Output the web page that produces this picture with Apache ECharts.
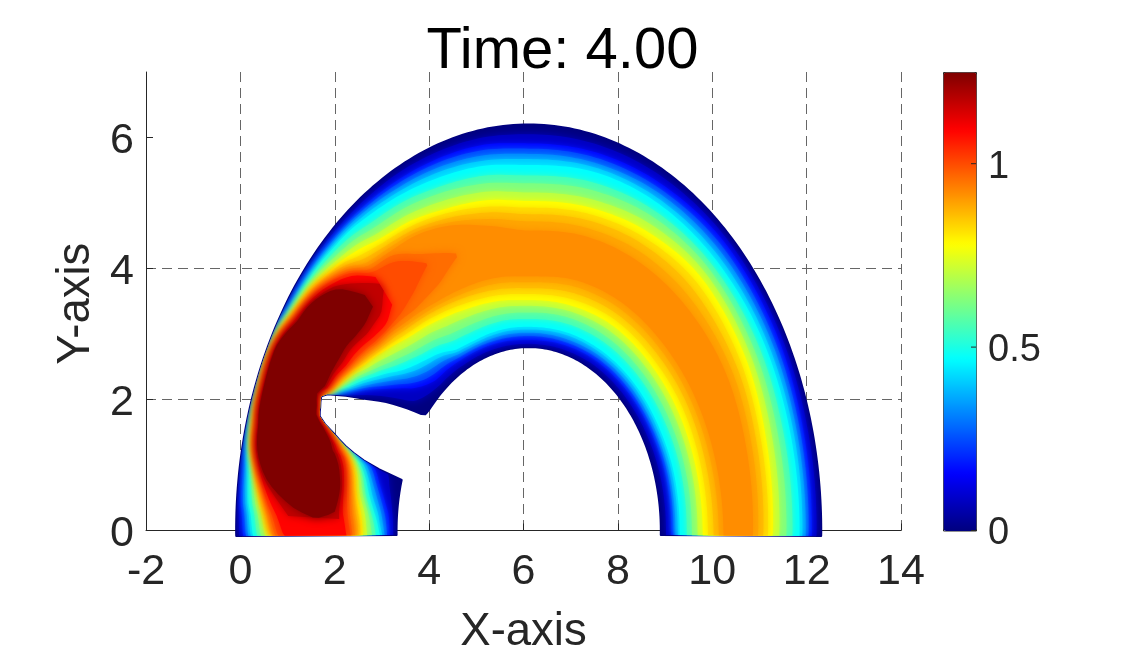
<!DOCTYPE html>
<html><head><meta charset="utf-8">
<style>html,body{margin:0;padding:0;background:#fff}#c{width:1125px;height:656px}</style>
<script src="https://cdn.jsdelivr.net/npm/echarts@6/dist/echarts.min.js"></script>
</head><body><div id="c"></div><script>
const titleText='Time: 4.00';
const xTicks=[-2,0,2,4,6,8,10,12,14];
const yTicks=[0,2,4,6];
const barTicks=[0,0.5,1];
const arcCentreX=6.11;
const footBottomY=-0.085;
// contour levels of the field
const levels=[0,.08,.16,.24,.32,.40,.47,.55,.62,.70,.78,.86,.92,1.0,1.09,1.17,1.25];
// angle of each cross-section, degrees round the arc from the left foot
const stations=[-1.4,2.5,4,9,13,16,16.4,17.7,19.8,21.5,23,25,27,30,33,36,39,42,46,50,55,62,70,80,90,105,120,135,150,165,181.4];
// inner radius at which each level is reached, one row per cross-section
const isoIn=[
[2.8,2.87,2.94,3.0,3.05,3.1,3.15,3.24,3.32,3.42,3.51,3.6,3.68,3.77,3.86],
[2.8,2.88,2.96,3.03,3.1,3.17,3.22,3.3,3.37,3.46,3.54,3.64,3.72,3.83,3.92,4.02,4.45],
[2.8,2.89,2.97,3.05,3.12,3.19,3.26,3.34,3.4,3.48,3.56,3.67,3.75,3.85,3.95,4.03,4.12],
[2.8,2.95,3.1,3.18,3.26,3.35,3.42,3.5,3.56,3.63,3.7,3.77,3.82,3.9,3.97,4.01,4.05],
[2.8,3.03,3.25,3.33,3.41,3.48,3.55,3.61,3.66,3.72,3.78,3.85,3.9,3.96,4.02,4.07,4.12],
[2.8,3.1,3.38,3.47,3.56,3.64,3.72,3.78,3.83,3.89,3.95,4.0,4.03,4.08,4.15,4.21,4.28],
[3.3,3.38,3.45,3.54,3.62,3.71,3.78,3.84,3.89,3.95,4.0,4.05,4.08,4.14,4.2,4.26,4.33],
[3.9,3.93,3.95,3.98,4.01,4.03,4.05,4.09,4.12,4.16,4.2,4.23,4.25,4.27,4.3,4.35,4.4],
[4.4,4.41,4.42,4.43,4.44,4.46,4.47,4.48,4.5,4.51,4.52,4.54,4.55,4.56,4.57,4.6,4.62],
[4.76,4.77,4.77,4.78,4.78,4.78,4.79,4.79,4.79,4.8,4.8,4.81,4.81,4.81,4.82,4.83,4.84],
[4.8,4.81,4.81,4.82,4.82,4.83,4.83,4.83,4.84,4.84,4.84,4.85,4.85,4.86,4.86,4.87,4.88],
[4.85,4.85,4.86,4.87,4.87,4.88,4.88,4.89,4.89,4.9,4.9,4.91,4.91,4.92,4.92,4.93,4.95],
[4.56,4.58,4.6,4.62,4.64,4.66,4.68,4.7,4.71,4.72,4.73,4.75,4.76,4.78,4.79,4.82,4.85],
[4.02,4.14,4.25,4.29,4.33,4.37,4.4,4.45,4.49,4.53,4.58,4.62,4.65,4.69,4.72,4.78,4.83],
[3.6,3.78,3.95,4.02,4.08,4.14,4.2,4.27,4.32,4.39,4.45,4.5,4.54,4.58,4.62,4.71,4.8],
[3.17,3.43,3.68,3.76,3.85,3.93,4.0,4.08,4.15,4.22,4.3,4.38,4.44,4.5,4.57,4.68,4.78],
[2.82,3.14,3.45,3.55,3.65,3.74,3.82,3.92,4.0,4.1,4.2,4.28,4.35,4.42,4.5,4.61,4.72],
[2.8,3.03,3.25,3.36,3.47,3.57,3.65,3.77,3.87,3.98,4.1,4.19,4.26,4.34,4.42,4.55,4.69],
[2.8,2.95,3.1,3.2,3.31,3.41,3.5,3.63,3.73,3.85,3.98,4.1,4.2,4.29,4.37,4.55,4.75],
[2.8,2.91,3.02,3.12,3.22,3.32,3.4,3.52,3.63,3.75,3.88,4.02,4.12,4.28,4.5,4.78],
[2.8,2.9,3.0,3.08,3.16,3.24,3.3,3.43,3.54,3.67,3.8,3.95,4.06,4.35],
[2.8,2.88,2.97,3.02,3.07,3.11,3.15,3.3,3.42,3.56,3.7,3.87,3.99,4.58],
[2.8,2.87,2.95,3.0,3.04,3.08,3.12,3.26,3.37,3.5,3.62,3.8,3.95],
[2.8,2.86,2.93,2.98,3.03,3.08,3.12,3.25,3.35,3.46,3.56,3.74,3.92],
[2.8,2.85,2.91,2.97,3.02,3.07,3.11,3.23,3.33,3.43,3.52,3.7,3.88],
[2.8,2.86,2.93,2.98,3.03,3.09,3.13,3.26,3.36,3.46,3.55,3.75,3.95],
[2.8,2.88,2.96,3.01,3.06,3.11,3.15,3.29,3.39,3.5,3.6,3.8,4.0],
[2.8,2.89,2.98,3.03,3.08,3.13,3.17,3.31,3.41,3.52,3.62,3.83,4.03],
[2.8,2.9,3.0,3.05,3.09,3.14,3.18,3.33,3.43,3.55,3.65,3.87,4.07],
[2.8,2.91,3.02,3.07,3.11,3.16,3.2,3.35,3.45,3.57,3.67,3.89,4.1],
[2.8,2.91,3.02,3.07,3.11,3.16,3.2,3.35,3.46,3.58,3.69,3.92,4.13]];
// outer radius at which each level is reached, one row per cross-section
const isoOut=[
[6.2,6.13,6.05,5.99,5.94,5.89,5.84,5.75,5.67,5.58,5.49,5.44,5.4,5.3,5.17],
[6.2,6.15,6.09,6.03,5.98,5.94,5.9,5.82,5.75,5.67,5.6,5.56,5.53,5.45,5.35,5.1,4.58],
[6.2,6.16,6.12,6.07,6.02,5.98,5.95,5.87,5.81,5.74,5.67,5.62,5.59,5.54,5.46,5.25,5.0],
[6.2,6.16,6.12,6.09,6.06,6.03,6.0,5.95,5.91,5.87,5.84,5.82,5.81,5.79,5.77,5.74,5.7],
[6.2,6.17,6.14,6.12,6.1,6.09,6.07,6.05,6.03,6.01,6.0,5.98,5.96,5.95,5.94,5.93,5.91],
[6.2,6.17,6.14,6.13,6.12,6.1,6.09,6.08,6.07,6.05,6.04,6.02,6.0,5.99,5.98,5.97,5.96],
[6.2,6.17,6.14,6.13,6.12,6.1,6.09,6.08,6.07,6.06,6.04,6.03,6.01,6.0,5.99,5.98,5.97],
[6.2,6.17,6.14,6.13,6.12,6.11,6.1,6.09,6.08,6.07,6.06,6.05,6.04,6.03,6.02,6.01,6.0],
[6.2,6.17,6.14,6.13,6.12,6.11,6.1,6.09,6.08,6.08,6.07,6.06,6.05,6.05,6.05,6.03,6.02],
[6.2,6.18,6.15,6.14,6.13,6.12,6.11,6.1,6.09,6.08,6.08,6.07,6.06,6.06,6.05,6.04,6.03],
[6.2,6.18,6.15,6.14,6.13,6.12,6.12,6.11,6.1,6.09,6.09,6.08,6.08,6.07,6.06,6.05,6.04],
[6.2,6.18,6.15,6.14,6.14,6.13,6.13,6.12,6.11,6.11,6.1,6.09,6.09,6.08,6.07,6.06,6.05],
[6.2,6.18,6.15,6.14,6.13,6.13,6.12,6.11,6.11,6.1,6.09,6.08,6.08,6.07,6.07,6.06,6.05],
[6.2,6.18,6.15,6.14,6.13,6.12,6.11,6.1,6.09,6.08,6.07,6.05,6.04,6.02,6.01,6.0,5.98],
[6.2,6.17,6.14,6.12,6.1,6.08,6.06,6.05,6.03,6.02,6.0,5.97,5.95,5.93,5.91,5.88,5.86],
[6.2,6.16,6.13,6.11,6.08,6.06,6.04,6.02,6.0,5.98,5.95,5.92,5.89,5.86,5.84,5.82,5.8],
[6.2,6.16,6.12,6.1,6.08,6.05,6.03,6.0,5.97,5.94,5.9,5.86,5.83,5.79,5.75,5.71,5.68],
[6.2,6.15,6.11,6.09,6.06,6.04,6.02,5.97,5.93,5.88,5.82,5.77,5.72,5.67,5.62,5.56,5.5],
[6.2,6.15,6.1,6.07,6.04,6.01,5.98,5.92,5.85,5.78,5.72,5.62,5.54,5.46,5.4,5.25,5.0],
[6.2,6.14,6.08,6.05,6.02,5.98,5.95,5.86,5.78,5.69,5.6,5.42,5.28,5.15,5.05,4.92],
[6.2,6.13,6.06,6.02,5.98,5.93,5.88,5.76,5.66,5.55,5.45,5.3,5.18,5.0],
[6.2,6.12,6.03,5.98,5.92,5.86,5.8,5.68,5.58,5.46,5.35,5.2,5.1,4.62],
[6.2,6.1,6.0,5.94,5.87,5.8,5.72,5.58,5.48,5.35,5.22,5.07,4.95],
[6.2,6.08,5.97,5.89,5.81,5.73,5.65,5.5,5.38,5.25,5.12,4.93,4.72],
[6.2,6.05,5.91,5.83,5.75,5.67,5.58,5.42,5.3,5.16,5.03,4.83,4.58],
[6.2,6.07,5.95,5.87,5.79,5.72,5.65,5.49,5.37,5.23,5.1,4.9,4.65],
[6.2,6.1,6.0,5.92,5.85,5.77,5.7,5.57,5.47,5.35,5.22,5.0,4.72],
[6.2,6.12,6.05,5.97,5.89,5.81,5.73,5.62,5.53,5.43,5.32,5.07,4.78],
[6.2,6.12,6.05,5.97,5.9,5.82,5.75,5.63,5.52,5.41,5.3,5.07,4.82],
[6.2,6.11,6.02,5.95,5.88,5.81,5.74,5.6,5.48,5.35,5.22,5.01,4.78],
[6.2,6.1,6.0,5.93,5.87,5.8,5.74,5.59,5.46,5.31,5.17,4.97,4.75]];
// three further levels between the yellow ridge and the red core
const midLevels=[.82,.89,.96];
const midIn=[
[3.56,3.64,3.73],[3.59,3.68,3.78],[3.62,3.71,3.8],[3.74,3.8,3.86],[3.82,3.87,3.93],[3.98,4.02,4.05],[4.03,4.07,4.11],[4.22,4.24,4.26],
[4.53,4.55,4.56],[4.8,4.81,4.81],[4.85,4.85,4.86],[4.9,4.91,4.92],[4.74,4.76,4.77],[4.6,4.64,4.67],[4.48,4.52,4.56],[4.34,4.41,4.47],
[4.24,4.32,4.39],[4.15,4.23,4.3],[4.04,4.15,4.25],[3.95,4.07,4.2],[3.88,4.0,4.15],[3.79,3.93,4.2],[3.71,3.87,4.44],[3.65,3.83],
[3.61,3.79],[3.65,3.85],[3.7,3.9],[3.72,3.93],[3.76,3.97],[3.78,4.0],[3.8,4.03]];
const midOut=[
[5.46,5.42,5.36],[5.58,5.55,5.5],[5.64,5.6,5.57],[5.83,5.81,5.8],[5.99,5.97,5.95],[6.03,6.01,6.0],[6.03,6.02,6.0],[6.05,6.04,6.03],
[6.06,6.05,6.05],[6.07,6.06,6.06],[6.08,6.08,6.07],[6.09,6.09,6.08],[6.08,6.08,6.07],[6.06,6.04,6.03],[5.98,5.96,5.94],[5.93,5.9,5.87],
[5.88,5.84,5.81],[5.79,5.74,5.69],[5.67,5.58,5.5],[5.5,5.34,5.21],[5.37,5.24,5.11],[5.27,5.15,4.78],[5.15,5.0,4.5],[5.02,4.83],
[4.93,4.72],[5.0,4.78],[5.11,4.87],[5.2,4.93],[5.18,4.95],[5.11,4.9],[5.07,4.86]];
const jet=['#00007f','#0000ff','#007fff','#00ffff','#7fff7f','#ffff00','#ff7f00','#ff0000','#7f0000'];

// every level as [value, table, column], painted from lowest to highest
const levelRefs=levels.map((v,i)=>[v,0,i]).concat(midLevels.map((v,i)=>[v,1,i])).sort((a,b)=>a[0]-b[0]);
const chart=echarts.init(document.getElementById('c'),null,{renderer:'canvas'});
const toXY=(r,deg)=>{const a=deg*Math.PI/180;return [arcCentreX-r*Math.cos(a),Math.max(r*Math.sin(a),footBottomY)];};
// curve of one level through its cross-sections, without overshoot
function edge(rows,idx,col,reverse){
  const P=idx.map(i=>[stations[i],rows[i][col]]),n=P.length,out=[];
  const sec=[];for(let k=0;k<n-1;k++)sec.push((P[k+1][1]-P[k][1])/(P[k+1][0]-P[k][0]));
  const m=P.map((_,k)=>{
    if(k===0)return sec[0]||0; if(k===n-1)return sec[n-2]||0;
    if(sec[k-1]*sec[k]<=0)return 0;
    return 2*sec[k-1]*sec[k]/(sec[k-1]+sec[k]);
  });
  for(let k=0;k<n-1;k++){
    const h=P[k+1][0]-P[k][0],steps=Math.max(1,Math.ceil(h));
    for(let t=0;t<steps;t++){
      const u=t/steps,u2=u*u,u3=u2*u;
      out.push([(2*u3-3*u2+1)*P[k][1]+(u3-2*u2+u)*h*m[k]+(-2*u3+3*u2)*P[k+1][1]+(u3-u2)*h*m[k+1],P[k][0]+h*u]);
    }
  }
  out.push([P[n-1][1],P[n-1][0]]);
  return reverse?out.reverse():out;
}
function outline(api,table,col){
  const inn=table?midIn:isoIn, out=table?midOut:isoOut;
  const idx=stations.map((_,i)=>i).filter(i=>inn[i][col]!=null);
  return edge(inn,idx,col,false).concat(edge(out,idx,col,true)).map(p=>api.coord(toXY(p[0],p[1])));
}
function renderLevel(params,api){
  const v=api.value(0),table=api.value(1),col=api.value(2);
  const color=api.visual('color');
  const pts=outline(api,table,col);
  if(v===0)return {type:'polygon',shape:{points:pts},style:{fill:color,stroke:color,lineWidth:2,lineJoin:'round'}};
  return {type:'polygon',shape:{points:pts},clipPath:{type:'polygon',shape:{points:outline(api,0,0)}},
    style:{fill:color,shadowBlur:9,shadowColor:color}};
}
function renderBarTick(params,api){
  const p=api.coord([1,api.value(0)]);
  return {type:'line',shape:{x1:p[0]-5,y1:p[1],x2:p[0],y2:p[1]},style:{stroke:'#262626',lineWidth:1}};
}
const shifted=v=>'{a|'+v+'}';
chart.setOption({
  animation:false,
  textStyle:{fontFamily:'Liberation Sans'},
  title:{text:titleText,left:557.5,top:18,textAlign:'center',textStyle:{fontSize:58,fontWeight:'normal',color:'#000',fontFamily:'Liberation Sans'}},
  grid:[{left:146,top:72,width:755,height:458.5,outerBoundsMode:'none'},{left:943,top:72,width:33,height:458.5,outerBoundsMode:'none'}],
  xAxis:[{type:'value',min:-2,max:14,interval:2,
      axisLine:{show:true,onZero:false,lineStyle:{color:'#262626',width:1}},
      axisTick:{show:true,inside:true,length:7,lineStyle:{color:'#262626'},customValues:xTicks},
      axisLabel:{fontSize:43,color:'#262626',margin:20,customValues:xTicks,fontFamily:'Liberation Sans',showMinLabel:true,showMaxLabel:true},
      splitLine:{show:true,lineStyle:{type:[10,6],color:'#666',width:1}},
      name:'X-axis',nameLocation:'middle',nameGap:79,nameTextStyle:{fontSize:45.5,color:'#262626',fontFamily:'Liberation Sans'}},
    {gridIndex:1,type:'value',min:0,max:1,show:false}],
  yAxis:[{type:'value',min:0,max:7,interval:2,
      axisLine:{show:true,onZero:false,lineStyle:{color:'#262626',width:1}},
      axisTick:{show:true,inside:true,length:7,lineStyle:{color:'#262626'},customValues:yTicks},
      axisLabel:{margin:12,customValues:yTicks,formatter:shifted,
        rich:{a:{fontSize:43,color:'#262626',fontFamily:'Liberation Sans',padding:[7,0,0,0]}}},
      splitLine:{show:true,showMaxLine:false,lineStyle:{type:[10,6],color:'#666',width:1}},
      name:'Y-axis',nameLocation:'middle',nameGap:40,nameTextStyle:{fontSize:45.5,color:'#262626',fontFamily:'Liberation Sans',padding:[0,5,0,0]}},
    {gridIndex:1,type:'value',min:0,max:1.25,position:'right',
      axisLine:{show:false},splitLine:{show:false},axisTick:{show:false},
      axisLabel:{margin:12,customValues:barTicks,formatter:shifted,
        rich:{a:{fontSize:38,color:'#262626',fontFamily:'Liberation Sans',padding:[7,0,0,0]}}}}],
  visualMap:{type:'continuous',seriesIndex:0,dimension:0,min:0,max:1.25,left:943,top:72,itemWidth:33,itemHeight:458.5,
    text:null,calculable:false,showLabel:false,padding:0,borderColor:'#262626',borderWidth:1,inRange:{color:jet}},
  series:[{type:'custom',coordinateSystem:'cartesian2d',xAxisIndex:0,yAxisIndex:0,renderItem:renderLevel,clip:false,silent:true,z:2,
    encode:{x:[],y:[]},dimensions:['level','table','column'],data:levelRefs},
   {type:'custom',coordinateSystem:'cartesian2d',xAxisIndex:1,yAxisIndex:1,renderItem:renderBarTick,silent:true,z:20,
    encode:{x:[],y:[0]},dimensions:['v'],data:barTicks.map(v=>[v])}]
});
</script></body></html>
